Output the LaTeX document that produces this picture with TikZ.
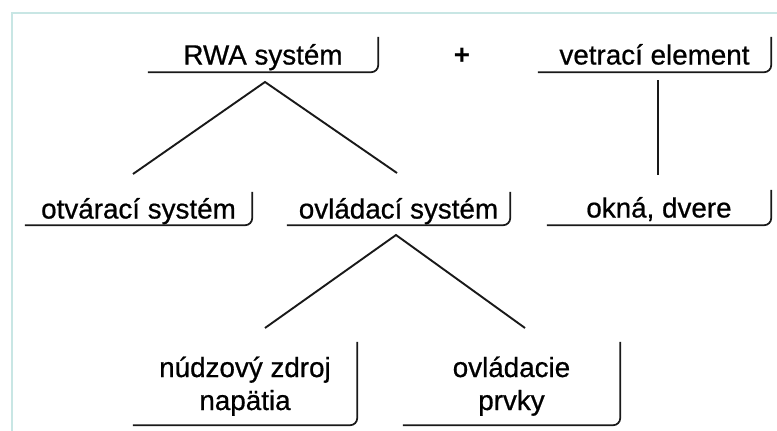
\documentclass[tikz,border=0pt]{standalone}
\usepackage{fontspec}
\setmainfont{Liberation Sans}
\newfontfamily\lblfont{Liberation Sans}[FakeBold=0.7]
\newfontfamily\plusfont{Liberation Sans Bold}
\definecolor{framec}{RGB}{200,230,228}
\definecolor{linec}{RGB}{25,25,25}
\begin{document}
\begin{tikzpicture}[x=1pt,y=-1pt,
  lbl/.style={inner sep=0pt, align=center, font=\lblfont\fontsize{27.8}{33}\selectfont, text height=20pt, text depth=0pt},
  twoline/.style={text height=53pt},
  boxline/.style={draw=linec, line width=1.7pt, rounded corners=7pt},
  conn/.style={draw=linec, line width=1.9pt}]
\useasboundingbox (0,0) rectangle (777,431);
% frame
\draw[framec, line width=1.5pt] (12,431) -- (12,13) -- (777,13);
% nodes
\node[lbl, minimum width=230pt, minimum height=35pt] (rwa) at (263,54.5) {RWA systém};
\node[lbl, font=\plusfont\fontsize{27.8}{33}\selectfont] (plus) at (462,54.5) {+};
\node[lbl, minimum width=233pt, minimum height=35pt] (vet) at (654.5,54.5) {vetrací element};
\node[lbl, minimum width=227pt, minimum height=33pt] (otv) at (138.5,208.5) {otvárací systém};
\node[lbl, minimum width=223pt, minimum height=33pt] (ovl) at (398.5,208.5) {ovládací systém};
\node[lbl, minimum width=224pt, minimum height=35pt] (okn) at (659,207.5) {okná, dvere};
\node[lbl, twoline, minimum width=224pt, minimum height=83pt] (nud) at (245,383.5) {núdzový zdroj\\napätia};
\node[lbl, twoline, minimum width=217pt, minimum height=83pt] (ovp) at (511.5,383.5) {ovládacie\\prvky};
% box edges (right and bottom only)
\foreach \n in {rwa,vet,otv,ovl,okn,nud,ovp}{
  \draw[boxline] (\n.north east) -- (\n.south east) -- (\n.south west);
}
% connector coordinates
\coordinate (a1) at (265,82);
\coordinate (l1) at (133,174);
\coordinate (r1) at (397,173);
\coordinate (a2) at (396,235);
\coordinate (l2) at (265,328);
\coordinate (r2) at (525,328);
\coordinate (v1) at (658,80);
\coordinate (v2) at (658,175);
\draw[conn, line join=miter] (l1) -- (a1) -- (r1);
\draw[conn, line join=miter] (l2) -- (a2) -- (r2);
\draw[conn] (v1) -- (v2);
\end{tikzpicture}
\end{document}
